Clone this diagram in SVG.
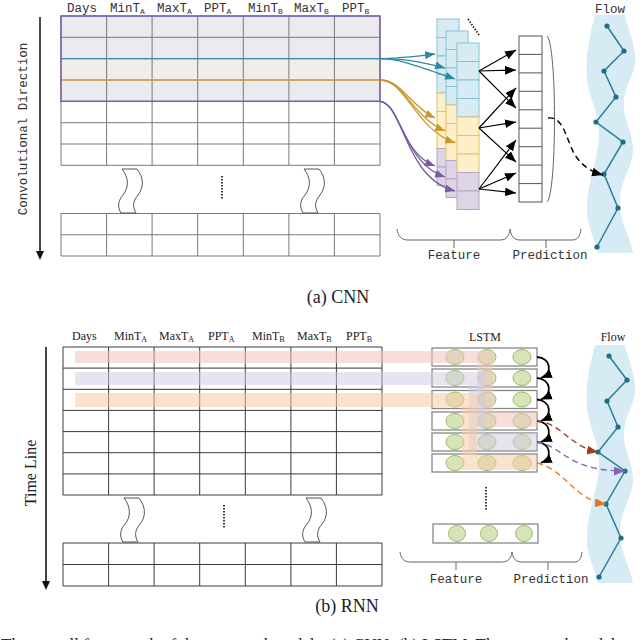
<svg xmlns="http://www.w3.org/2000/svg" width="640" height="640" viewBox="0 0 640 640">
<style>
.mono{font-family:"Liberation Mono","DejaVu Sans Mono",monospace;fill:#333}
.serif{font-family:"Liberation Serif","Times New Roman",serif;fill:#222}
.grid{fill:none;stroke:#7a7a7a;stroke-width:1}
.gridb{fill:none;stroke:#3a3a3a;stroke-width:1}
.brace{fill:none;stroke:#666;stroke-width:1}
.blue{fill:#d7ebf3;stroke:#85c2d5;stroke-width:1}
.yel{fill:#fdefc8;stroke:#e2c26c;stroke-width:1}
.pur{fill:#ddd5e5;stroke:#b3a5c3;stroke-width:1}
.band{fill:#d6ebf3}
.flowline{fill:none;stroke:#2a7f98;stroke-width:1.5}
.dot{fill:#1e6f86}
.cell{fill:#fff;stroke:#555;stroke-width:1}
.lbox{fill:#fff;stroke:#888;stroke-width:1.3}
.cir{fill:#d6e5b8;stroke:#9dbb6b;stroke-width:1}
.dots{fill:none;stroke:#222;stroke-width:1.8;stroke-dasharray:1.5 1.5}
.wave{fill:#fff;stroke:#555;stroke-width:1}
</style>
<defs>
<marker id="m-teal" viewBox="0 0 10 8" refX="10" refY="4" markerWidth="10" markerHeight="8" markerUnits="userSpaceOnUse" orient="auto"><path d="M0,0 L10,4 L0,8 Z" fill="#2e8aa3"/></marker>
<marker id="m-gold" viewBox="0 0 10 8" refX="10" refY="4" markerWidth="10" markerHeight="8" markerUnits="userSpaceOnUse" orient="auto"><path d="M0,0 L10,4 L0,8 Z" fill="#c9972e"/></marker>
<marker id="m-pur" viewBox="0 0 10 8" refX="10" refY="4" markerWidth="10" markerHeight="8" markerUnits="userSpaceOnUse" orient="auto"><path d="M0,0 L10,4 L0,8 Z" fill="#7b5aa6"/></marker>
<marker id="m-blk" viewBox="0 0 10 8" refX="10" refY="4" markerWidth="11" markerHeight="9" markerUnits="userSpaceOnUse" orient="auto"><path d="M0,0 L10,4 L0,8 Z" fill="#000"/></marker>
<marker id="m-red" viewBox="0 0 10 8" refX="10" refY="4" markerWidth="11" markerHeight="9" markerUnits="userSpaceOnUse" orient="auto"><path d="M0,0 L10,4 L0,8 Z" fill="#a33a25"/></marker>
<marker id="m-vio" viewBox="0 0 10 8" refX="10" refY="4" markerWidth="11" markerHeight="9" markerUnits="userSpaceOnUse" orient="auto"><path d="M0,0 L10,4 L0,8 Z" fill="#8a60b3"/></marker>
<marker id="m-org" viewBox="0 0 10 8" refX="10" refY="4" markerWidth="11" markerHeight="9" markerUnits="userSpaceOnUse" orient="auto"><path d="M0,0 L10,4 L0,8 Z" fill="#e8761e"/></marker>
<path id="flowband" d="M595,15 C590,35 585,55 587,78 C589,100 600,112 599,135 C598,160 588,180 587,205 C586,228 596,240 598,253 L633,253 C631,238 619,222 620,200 C621,178 634,165 633,148 C632,128 622,118 624,100 C626,82 637,72 635,55 C633,35 626,25 625,15 Z"/>
</defs>
<rect width="640" height="640" fill="#fff"/>

<!-- ===== (a) CNN ===== -->
<g id="headers-a" class="mono" font-size="12.5">
<text x="67" y="12">Days</text>
<text x="110" y="12">MinT<tspan font-size="8" dy="2">A</tspan></text>
<text x="157" y="12">MaxT<tspan font-size="8" dy="2">A</tspan></text>
<text x="204" y="12">PPT<tspan font-size="8" dy="2">A</tspan></text>
<text x="248" y="12">MinT<tspan font-size="8" dy="2">B</tspan></text>
<text x="294" y="12">MaxT<tspan font-size="8" dy="2">B</tspan></text>
<text x="342" y="12">PPT<tspan font-size="8" dy="2">B</tspan></text>
</g>
<g id="axis-a">
<line x1="40" y1="17" x2="40" y2="252" stroke="#111" stroke-width="1.5"/>
<path d="M36,251 L44,251 L40,260 Z" fill="#111"/>
<text class="mono" font-size="12.5" text-anchor="middle" transform="translate(27,129) rotate(-90)">Convolutional Direction</text>
</g>
<g id="table-a">
<rect x="61" y="16" width="319" height="85.3" fill="#ebebef"/>
<rect x="61" y="58.7" width="319" height="21.3" fill="#f3ede9"/>
<path class="grid" d="M61,16 H380 V165.3 H61 Z M61,37.3 H380 M61,58.7 H380 M61,80 H380 M61,101.3 H380 M61,122.7 H380 M61,144 H380 M106.6,16 V165.3 M152.1,16 V165.3 M197.7,16 V165.3 M243.3,16 V165.3 M288.9,16 V165.3 M334.4,16 V165.3"/>
<path class="grid" d="M61,213.5 H380 V256 H61 Z M61,234.75 H380 M106.6,213.5 V256 M152.1,213.5 V256 M197.7,213.5 V256 M243.3,213.5 V256 M288.9,213.5 V256 M334.4,213.5 V256"/>
<line x1="61" y1="58.7" x2="380" y2="58.7" stroke="#3a8fa8" stroke-width="1.3"/>
<line x1="61" y1="80" x2="380" y2="80" stroke="#d6a445" stroke-width="1.5"/>
<rect x="61" y="16" width="319" height="85.3" fill="none" stroke="#7d5fae" stroke-width="1.5"/>
<path class="wave" d="M122,169 C129,178 129,187 123,195 C117,202 118,208 121,213 L136,213 C133,208 132,202 138,195 C144,187 144,178 137,169 Z"/>
<path class="wave" d="M304,169 C311,178 311,187 305,195 C299,202 300,208 303,213 L318,213 C315,208 314,202 320,195 C326,187 326,178 319,169 Z"/>
<line class="dots" x1="222" y1="176" x2="222" y2="199"/>
</g>
<g id="feature-maps-a">
<g id="fmap1">
<rect class="blue" x="437" y="19" width="22" height="18.5"/><rect class="blue" x="437" y="37.5" width="22" height="18.5"/><rect class="blue" x="437" y="56" width="22" height="18.5"/><rect class="blue" x="437" y="74.5" width="22" height="18.5"/>
<rect class="yel" x="437" y="93" width="22" height="18.5"/><rect class="yel" x="437" y="111.5" width="22" height="18.5"/><rect class="yel" x="437" y="130" width="22" height="18.5"/>
<rect class="pur" x="437" y="148.5" width="22" height="18.5"/><rect class="pur" x="437" y="167" width="22" height="18.5"/>
</g>
<g id="fmap2">
<rect class="blue" x="446" y="31" width="22" height="18.5"/><rect class="blue" x="446" y="49.5" width="22" height="18.5"/><rect class="blue" x="446" y="68" width="22" height="18.5"/><rect class="blue" x="446" y="86.5" width="22" height="18.5"/>
<rect class="yel" x="446" y="105" width="22" height="18.5"/><rect class="yel" x="446" y="123.5" width="22" height="18.5"/><rect class="yel" x="446" y="142" width="22" height="18.5"/>
<rect class="pur" x="446" y="160.5" width="22" height="18.5"/><rect class="pur" x="446" y="179" width="22" height="18.5"/>
</g>
<g id="fmap3">
<rect class="blue" x="457" y="43" width="22" height="18.5"/><rect class="blue" x="457" y="61.5" width="22" height="18.5"/><rect class="blue" x="457" y="80" width="22" height="18.5"/><rect class="blue" x="457" y="98.5" width="22" height="18.5"/>
<rect class="yel" x="457" y="117" width="22" height="18.5"/><rect class="yel" x="457" y="135.5" width="22" height="18.5"/><rect class="yel" x="457" y="154" width="22" height="18.5"/>
<rect class="pur" x="457" y="172.5" width="22" height="18.5"/><rect class="pur" x="457" y="191" width="22" height="18.5"/>
</g>
<line class="dots" x1="468" y1="19" x2="479" y2="35" stroke-width="1.5"/>
</g>
<g id="prediction-a">
<rect class="cell" x="519" y="36" width="23" height="166"/>
<path class="cell" d="M519,54.4 H542 M519,72.9 H542 M519,91.3 H542 M519,109.8 H542 M519,128.2 H542 M519,146.7 H542 M519,165.1 H542 M519,183.6 H542"/>
<path class="brace" d="M547,36 C557,45 557,193 547,202"/>
</g>
<g id="flow-a">
<use href="#flowband" class="band"/>
<text class="mono" font-size="12.5" x="610" y="13" text-anchor="middle">Flow</text>
<polyline class="flowline" points="607,26 624,51 604,71 616,97 596,122 623,142 604,174 618,208 597,247"/>
<g class="dot"><circle cx="607" cy="26" r="2.6"/><circle cx="624" cy="51" r="2.6"/><circle cx="604" cy="71" r="2.6"/><circle cx="616" cy="97" r="2.6"/><circle cx="596" cy="122" r="2.6"/><circle cx="623" cy="142" r="2.6"/><circle cx="604" cy="174" r="2.6"/><circle cx="618" cy="208" r="2.6"/><circle cx="597" cy="247" r="2.6"/></g>
</g>
<g id="braces-a">
<path class="brace" d="M397,229 C398,236 401,240 408,240 L500,240 C507,240 509,236 510,229 M454,240 V248"/>
<path class="brace" d="M510,229 C511,236 514,240 520,240 L572,240 C578,240 580,236 581,229 M546,240 V248"/>
<text class="mono" font-size="12.5" x="454" y="259" text-anchor="middle">Feature</text>
<text class="mono" font-size="12.5" x="550" y="259" text-anchor="middle">Prediction</text>
</g>
<text id="caption-a" class="serif" font-size="18" x="338" y="303" text-anchor="middle">(a) CNN</text>

<!-- ===== (b) RNN ===== -->
<g id="headers-b" class="serif" font-size="12">
<text x="72" y="340">Days</text>
<text x="114" y="340">MinT<tspan font-size="8" dy="2">A</tspan></text>
<text x="159" y="340">MaxT<tspan font-size="8" dy="2">A</tspan></text>
<text x="208" y="340">PPT<tspan font-size="8" dy="2">A</tspan></text>
<text x="252" y="340">MinT<tspan font-size="8" dy="2">B</tspan></text>
<text x="297" y="340">MaxT<tspan font-size="8" dy="2">B</tspan></text>
<text x="346" y="340">PPT<tspan font-size="8" dy="2">B</tspan></text>
</g>
<g id="axis-b">
<line x1="46" y1="347" x2="46" y2="582" stroke="#333" stroke-width="1.8"/>
<path d="M42,581 L50,581 L46,590 Z" fill="#111"/>
<text class="serif" font-size="16" text-anchor="middle" transform="translate(36,473) rotate(-90)">Time Line</text>
</g>
<g id="table-b">
<path class="gridb" d="M63,347 H382 V495 H63 Z M63,368.1 H382 M63,389.3 H382 M63,410.4 H382 M63,431.6 H382 M63,452.7 H382 M63,473.9 H382 M108.6,347 V495 M154.1,347 V495 M199.7,347 V495 M245.3,347 V495 M290.9,347 V495 M336.4,347 V495"/>
<path class="gridb" d="M63,543 H382 V586 H63 Z M63,564.5 H382 M108.6,543 V586 M154.1,543 V586 M199.7,543 V586 M245.3,543 V586 M290.9,543 V586 M336.4,543 V586"/>
<path class="wave" d="M124,498 C131,507 131,517 125,524 C119,531 120,537 123,542 L138,542 C135,537 134,531 140,524 C146,517 146,507 139,498 Z"/>
<path class="wave" d="M306,498 C313,507 313,517 307,524 C301,531 302,537 305,542 L320,542 C317,537 316,531 322,524 C328,517 328,507 321,498 Z"/>
<line class="dots" x1="224" y1="505" x2="224" y2="528"/>
</g>
<g id="lstm">
<text class="serif" font-size="12" x="485" y="341" text-anchor="middle">LSTM</text>
<rect class="lbox" x="432" y="348" width="105" height="18"/>
<rect class="lbox" x="432" y="369" width="105" height="18"/>
<rect class="lbox" x="432" y="390.5" width="105" height="18"/>
<rect class="lbox" x="432" y="412" width="105" height="18"/>
<rect class="lbox" x="432" y="433" width="105" height="18"/>
<rect class="lbox" x="432" y="454" width="105" height="18"/>
<g class="cir">
<ellipse cx="455" cy="357" rx="9" ry="7.5"/><ellipse cx="487" cy="357" rx="9" ry="7.5"/><ellipse cx="522" cy="357" rx="9" ry="7.5"/>
<ellipse cx="455" cy="378" rx="9" ry="7.5"/><ellipse cx="487" cy="378" rx="9" ry="7.5"/><ellipse cx="522" cy="378" rx="9" ry="7.5"/>
<ellipse cx="455" cy="399.5" rx="9" ry="7.5"/><ellipse cx="487" cy="399.5" rx="9" ry="7.5"/><ellipse cx="522" cy="399.5" rx="9" ry="7.5"/>
<ellipse cx="455" cy="421" rx="9" ry="7.5"/><ellipse cx="487" cy="421" rx="9" ry="7.5"/><ellipse cx="522" cy="421" rx="9" ry="7.5"/>
<ellipse cx="455" cy="442" rx="9" ry="7.5"/><ellipse cx="487" cy="442" rx="9" ry="7.5"/><ellipse cx="522" cy="442" rx="9" ry="7.5"/>
<ellipse cx="455" cy="463" rx="9" ry="7.5"/><ellipse cx="487" cy="463" rx="9" ry="7.5"/><ellipse cx="522" cy="463" rx="9" ry="7.5"/>
</g>
<line class="dots" x1="486" y1="487" x2="486" y2="510"/>
<rect class="lbox" x="433" y="524" width="105" height="19"/>
<g class="cir"><ellipse cx="457" cy="533.5" rx="8.5" ry="8"/><ellipse cx="489" cy="533.5" rx="8.5" ry="8"/><ellipse cx="524" cy="533.5" rx="8.5" ry="8"/></g>
</g>
<g id="highlights-b">
<path d="M75,351 L493,351 L493,412 L537,412 L537,427 L477,427 L477,363 L75,363 Z" fill="#efc4bc" fill-opacity="0.55"/>
<path d="M75,372 L485,372 L485,433 L537,433 L537,450 L469,450 L469,385 L75,385 Z" fill="#cfcae2" fill-opacity="0.5"/>
<path d="M75,393 L477,393 L477,455 L537,455 L537,470 L462,470 L462,407 L75,407 Z" fill="#f8cba6" fill-opacity="0.55"/>
</g>
<g id="flow-b">
<use href="#flowband" class="band" transform="translate(0,330)"/>
<text class="serif" font-size="12" x="613" y="341" text-anchor="middle">Flow</text>
<polyline class="flowline" points="609,356 627,380 607,401 618,427 598,452 625,471 606,504 621,538 599,577"/>
<g class="dot"><circle cx="609" cy="356" r="2.6"/><circle cx="627" cy="380" r="2.6"/><circle cx="607" cy="401" r="2.6"/><circle cx="618" cy="427" r="2.6"/><circle cx="598" cy="452" r="2.6"/><circle cx="625" cy="471" r="2.6"/><circle cx="606" cy="504" r="2.6"/><circle cx="621" cy="538" r="2.6"/><circle cx="599" cy="577" r="2.6"/></g>
</g>
<g id="braces-b">
<path class="brace" d="M400,552 C401,559 404,562 411,562 L501,562 C508,562 511,559 512,552 M456,562 V570"/>
<path class="brace" d="M512,552 C513,559 516,562 522,562 L574,562 C579,562 581,559 582,552 M548,562 V570"/>
<text class="mono" font-size="12.5" x="456" y="583" text-anchor="middle">Feature</text>
<text class="mono" font-size="12.5" x="551" y="583" text-anchor="middle">Prediction</text>
</g>
<text id="caption-b" class="serif" font-size="18" x="347" y="612" text-anchor="middle">(b) RNN</text>
<text id="figure-caption" class="serif" font-size="17" x="1" y="650">The overall framework of the proposed models: (a) CNN; (b) LSTM. The proposed models are</text>

<!-- ===== connectors ===== -->
<g id="connectors" fill="none">
<g stroke="#2e8aa3" stroke-width="1.3">
<path d="M380,58.7 C398,58.7 410,57 435,54" marker-end="url(#m-teal)"/>
<path d="M380,58.7 C400,58.7 415,60 445,68" marker-end="url(#m-teal)"/>
<path d="M380,58.7 C400,58.7 420,67 455,79" marker-end="url(#m-teal)"/>
</g>
<g stroke="#c9972e" stroke-width="1.3">
<path d="M380,80 C402,80 410,106 435,118" marker-end="url(#m-gold)"/>
<path d="M380,80 C404,80 412,117 445,131" marker-end="url(#m-gold)"/>
<path d="M380,80 C406,80 414,128 455,143" marker-end="url(#m-gold)"/>
</g>
<g stroke="#7b5aa6" stroke-width="1.3">
<path d="M380,101.3 C400,104 400,152 435,166" marker-end="url(#m-pur)"/>
<path d="M380,101.3 C402,104 402,162 445,177" marker-end="url(#m-pur)"/>
<path d="M380,101.3 C404,104 404,178 455,191" marker-end="url(#m-pur)"/>
</g>
<g stroke="#000" stroke-width="1.2">
<path d="M479,71 L516,50" marker-end="url(#m-blk)"/>
<path d="M479,71 L516,70" marker-end="url(#m-blk)"/>
<path d="M479,71 L516,108" marker-end="url(#m-blk)"/>
<path d="M479,128 L516,88" marker-end="url(#m-blk)"/>
<path d="M479,128 L516,122" marker-end="url(#m-blk)"/>
<path d="M479,128 L516,162" marker-end="url(#m-blk)"/>
<path d="M479,189 L516,140" marker-end="url(#m-blk)"/>
<path d="M479,189 L516,173" marker-end="url(#m-blk)"/>
<path d="M479,189 L516,193" marker-end="url(#m-blk)"/>
</g>
<path d="M548,118 C564,116 566,140 575,155 C582,166 592,172 603,175" stroke="#000" stroke-width="1.4" stroke-dasharray="6 4" marker-end="url(#m-blk)"/>
<g stroke="#000" stroke-width="1.8">
<path d="M537,357 C551,358 553,373 541,378" marker-end="url(#m-blk)"/>
<path d="M537,378 C551,379 553,394.5 541,399.5" marker-end="url(#m-blk)"/>
<path d="M537,399.5 C551,400.5 553,416 541,421" marker-end="url(#m-blk)"/>
<path d="M537,421 C551,422 553,437 541,442" marker-end="url(#m-blk)"/>
<path d="M537,442 C551,443 553,458 541,463" marker-end="url(#m-blk)"/>
</g>
<path d="M537,421 C560,422 570,447 598,452" stroke="#a33a25" stroke-width="1.4" stroke-dasharray="6 4" marker-end="url(#m-red)"/>
<path d="M537,442 C562,445 566,471 625,471" stroke="#8a60b3" stroke-width="1.4" stroke-dasharray="6 4" marker-end="url(#m-vio)"/>
<path d="M537,463 C566,470 574,500 606,504" stroke="#e8761e" stroke-width="1.4" stroke-dasharray="6 4" marker-end="url(#m-org)"/>
</g>
</svg>
